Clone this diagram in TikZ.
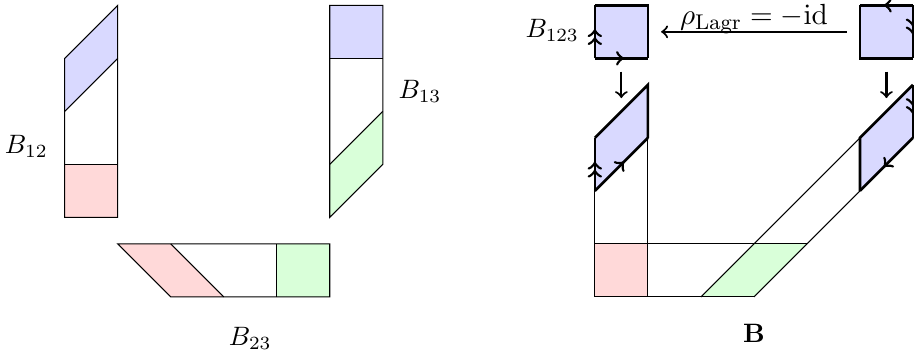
\documentclass[tikz,border=0pt]{standalone}
\usetikzlibrary{decorations.markings}
\begin{document}
\begin{tikzpicture}[x=0.7cm,y=0.7cm,
  thinline/.style={line width=0.4pt},
  boldline/.style={line width=1pt},
  maparrow/.style={line width=0.8pt,->},
  bluef/.style={fill=blue!15},
  redf/.style={fill=red!15},
  greenf/.style={fill=green!15},
  onemark/.style={boldline,postaction={decorate},decoration={markings,mark=at position 0.55 with {\arrow{>}}}},
  twomark/.style={boldline,postaction={decorate},decoration={markings,mark=at position 0.55 with {\arrow{>>}}}},
  maplabel/.style={inner sep=0pt}
]
\useasboundingbox (-1.22,-2.58) rectangle (16.02,4.10);
% ---------- B12 ----------
\fill[redf] (0,0) rectangle (1,1);
\fill[bluef] (0,2) -- (1,3) -- (1,4) -- (0,3) -- cycle;
\draw[thinline] (0,0) -- (1,0) -- (1,4) -- (0,3) -- cycle;
\draw[thinline] (0,1) -- (1,1);
\draw[thinline] (0,2) -- (1,3);
\node[maplabel, anchor=east] (b12) at (-0.31,1.33) {$B_{12}$};
% ---------- B13 ----------
\fill[bluef] (5,3) rectangle (6,4);
\fill[greenf] (5,0) -- (6,1) -- (6,2) -- (5,1) -- cycle;
\draw[thinline] (5,0) -- (6,1) -- (6,4) -- (5,4) -- cycle;
\draw[thinline] (5,3) -- (6,3);
\draw[thinline] (5,1) -- (6,2);
\node[maplabel, anchor=west] (b13) at (6.29,2.37) {$B_{13}$};
% ---------- B23 ----------
\fill[redf] (1,-0.5) -- (2,-0.5) -- (3,-1.5) -- (2,-1.5) -- cycle;
\fill[greenf] (4,-0.5) rectangle (5,-1.5);
\draw[thinline] (1,-0.5) -- (5,-0.5) -- (5,-1.5) -- (2,-1.5) -- cycle;
\draw[thinline] (2,-0.5) -- (3,-1.5);
\draw[thinline] (4,-0.5) -- (4,-1.5);
\node[maplabel] (b23) at (3.5,-2.28) {$B_{23}$};
% ---------- B ----------
\begin{scope}[shift={(10,-1.5)}]
  \fill[redf] (0,0) rectangle (1,1);
  \fill[greenf] (2,0) -- (3,0) -- (4,1) -- (3,1) -- cycle;
  \draw[thinline] (0,0) -- (3,0);
  \draw[thinline] (0,1) -- (4,1);
  \draw[thinline] (0,0) -- (0,2);
  \draw[thinline] (1,0) -- (1,3);
  \draw[thinline] (2,0) -- (3,1) -- (5,3);
  \draw[thinline] (3,0) -- (4,1) -- (5,2);
  % left blue parallelogram
  \fill[bluef] (0,2) -- (1,3) -- (1,4) -- (0,3) -- cycle;
  \draw[boldline] (1,3) -- (1,4) -- (0,3);
  \draw[twomark] (0,2) -- (0,3);
  \draw[onemark] (0,2) -- (1,3);
  % right blue parallelogram
  \fill[bluef] (5,2) -- (6,3) -- (6,4) -- (5,3) -- cycle;
  \draw[boldline] (6,4) -- (5,3) -- (5,2);
  \draw[twomark] (6,4) -- (6,3);
  \draw[onemark] (6,3) -- (5,2);
  % top squares
  \fill[bluef] (0,4.5) rectangle (1,5.5);
  \draw[boldline] (1,4.5) -- (1,5.5) -- (0,5.5);
  \draw[twomark] (0,4.5) -- (0,5.5);
  \draw[onemark] (0,4.5) -- (1,4.5);
  \fill[bluef] (5,4.5) rectangle (6,5.5);
  \draw[boldline] (5,5.5) -- (5,4.5) -- (6,4.5);
  \draw[onemark] (6,5.5) -- (5,5.5);
  \draw[twomark] (6,5.5) -- (6,4.5);
  % arrows
  \coordinate (lsq) at (1.25,5);
  \coordinate (rsq) at (4.75,5);
  \coordinate (ltop) at (0.5,4.25);
  \coordinate (lpar) at (0.5,3.75);
  \coordinate (rtop) at (5.5,4.25);
  \coordinate (rpar) at (5.5,3.75);
  \draw[maparrow] (rsq) -- (lsq);
  \node[maplabel, anchor=base, font=\fontsize{11}{13}\selectfont] (rho) at (3,5.13) {$\rho_{\mathrm{Lagr}}=-\mathrm{id}$};
  \draw[maparrow] (ltop) -- (lpar);
  \draw[maparrow] (rtop) -- (rpar);
  \node[maplabel, anchor=base east] (b123) at (-0.29,4.9) {$B_{123}$};
  \node[maplabel, anchor=base] (bb) at (3.0,-0.86) {$\mathbf{B}$};
\end{scope}
\end{tikzpicture}
\end{document}
